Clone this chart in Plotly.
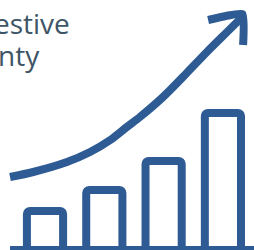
import plotly.graph_objects as go

# Bars (illustrative growth chart)
bar_positions = [1, 2, 3, 4]
bar_values = [39, 60, 89, 137]

# Trend arrow path (data units)
trend_x = [0.41, 0.80, 1.37, 1.76, 2.10, 2.38, 2.60, 2.99, 3.39, 3.73, 4.07, 4.36]
trend_y = [73, 78, 88, 98, 110, 123, 133, 153, 177, 198, 218, 235]
head_x = [3.75, 4.05, 4.33, 4.34]
head_y = [230, 234, 236, 205]

baseline_x = [0.41, 4.6]
baseline_y = [0, 0]

title_lines = ["estive", "nty"]
title_right_px = [72, 42]

BLUE = "#2e5b94"
TEXT = "#3d5566"

fig = go.Figure()
fig.add_trace(go.Bar(
    x=bar_positions, y=bar_values, width=0.61,
    marker=dict(color="white", line=dict(color=BLUE, width=8), cornerradius=3),
))
fig.add_trace(go.Scatter(x=baseline_x, y=baseline_y, mode="lines",
                         line=dict(color=BLUE, width=8), cliponaxis=False))
fig.add_trace(go.Scatter(x=trend_x, y=trend_y, mode="lines",
                         line=dict(color=BLUE, width=8, shape="spline", smoothing=0.8)))
fig.add_trace(go.Scatter(x=head_x, y=head_y, mode="lines",
                         line=dict(color=BLUE, width=8, shape="spline", smoothing=0.5)))

for i, t in enumerate(title_lines):
    fig.add_annotation(text=t, xref="paper", yref="paper",
                       x=title_right_px[i] / 254, y=1 - (2 + 32 * i) / 250,
                       xanchor="right", yanchor="top", showarrow=False,
                       font=dict(family="Open Sans", size=28, color=TEXT, weight=500))

fig.update_layout(
    width=254, height=250, margin=dict(l=0, r=0, t=0, b=0),
    paper_bgcolor="white", plot_bgcolor="white", showlegend=False,
    xaxis=dict(range=[0.241, 4.524], visible=False),
    yaxis=dict(range=[0, 250], visible=False),
)
fig.write_html("out.html", config={"displayModeBar": False},
               post_script="document.body.style.margin='0';")
